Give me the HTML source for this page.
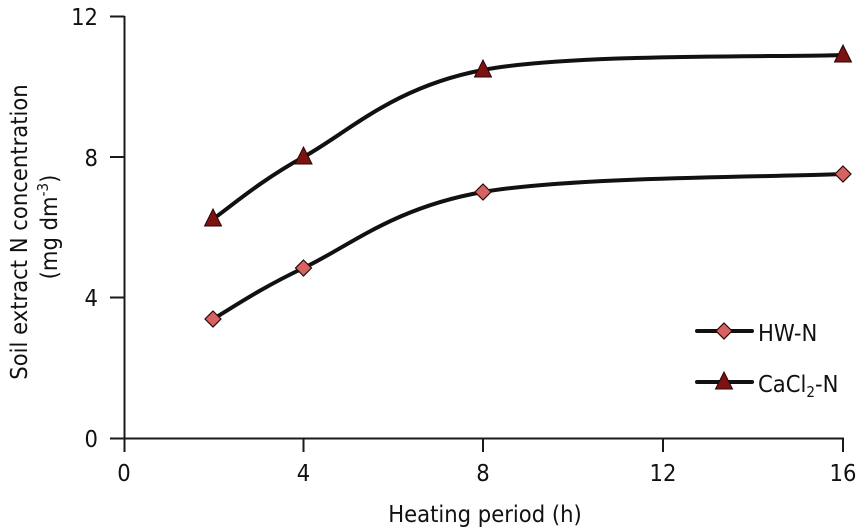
<!DOCTYPE html>
<html><head><meta charset="utf-8"><style>
html,body{margin:0;padding:0;background:#fff;}
svg{display:block;}
text{font-family:"DejaVu Sans Condensed","DejaVu Sans","Liberation Sans",sans-serif;font-stretch:semi-condensed;font-size:23.5px;fill:#111;}
</style></head><body>
<svg width="860" height="532" viewBox="0 0 860 532" xmlns="http://www.w3.org/2000/svg">
<g stroke="#1a1a1a" stroke-width="2" fill="none">
<line x1="124.5" y1="16" x2="124.5" y2="452"/>
<line x1="110" y1="438.5" x2="844" y2="438.5"/>
<line x1="110" y1="16.5" x2="124.5" y2="16.5"/>
<line x1="110" y1="157" x2="124.5" y2="157"/>
<line x1="110" y1="297.5" x2="124.5" y2="297.5"/>
<line x1="303.5" y1="438" x2="303.5" y2="452"/>
<line x1="483" y1="438" x2="483" y2="452"/>
<line x1="663" y1="438" x2="663" y2="452"/>
<line x1="843" y1="438" x2="843" y2="452"/>
</g>
<g text-anchor="end">
<text x="98" y="25">12</text>
<text x="98" y="166">8</text>
<text x="98" y="306">4</text>
<text x="98" y="447">0</text>
</g>
<g text-anchor="middle">
<text x="124" y="481">0</text>
<text x="303.5" y="481">4</text>
<text x="483" y="481">8</text>
<text x="663" y="481">12</text>
<text x="843" y="481">16</text>
<text x="485" y="522">Heating period (h)</text>
<text transform="translate(27,232) rotate(-90)">Soil extract N concentration</text>
<text transform="translate(57,227) rotate(-90)">(mg dm<tspan font-size="15" dy="-9">-3</tspan><tspan dy="9">)</tspan></text>
</g>
<g fill="none" stroke="#111" stroke-width="4" stroke-linecap="round">
<path d="M213,219 C228.1,208.7 258.5,181.8 303.5,157 C348.5,132.2 393.1,87 483,70 C572.9,53 783,57.5 843,55"/>
<path d="M213,319 C228.1,310.5 258.5,289.2 303.5,268 C348.5,246.8 393.1,207.7 483,192 C572.9,176.3 783,177 843,174"/>
<line x1="697" y1="331" x2="752" y2="331"/>
<line x1="697" y1="382" x2="752" y2="382"/>
</g>
<g fill="#7c1212" stroke="#2a0505" stroke-width="1">
<polygon points="213,209 221.5,226 204.5,226"/>
<polygon points="303.5,147 312,164 295,164"/>
<polygon points="483,60 491.5,77 474.5,77"/>
<polygon points="843,45 851.5,62 834.5,62"/>
<polygon points="724,372 732.5,389 715.5,389"/>
</g>
<g fill="#d66262" stroke="#2a0808" stroke-width="1.2">
<polygon points="213,311 221,319 213,327 205,319"/>
<polygon points="303.5,260 311.5,268 303.5,276 295.5,268"/>
<polygon points="483,184 491,192 483,200 475,192"/>
<polygon points="843,166 851,174 843,182 835,174"/>
<polygon points="724,323 732,331 724,339 716,331"/>
</g>
<text x="758" y="341">HW-N</text>
<text x="758" y="392">CaCl<tspan font-size="15" dy="5">2</tspan><tspan dy="-5">-N</tspan></text>
</svg>
</body></html>
